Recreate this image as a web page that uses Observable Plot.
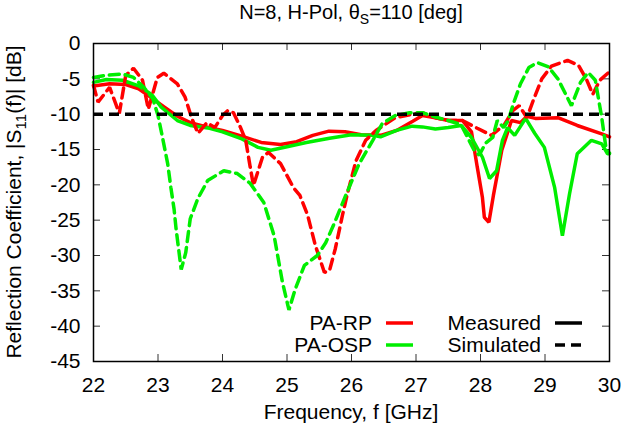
<!DOCTYPE html>
<html>
<head>
<meta charset="utf-8">
<script src="https://cdn.jsdelivr.net/npm/d3@7"></script>
<script src="https://cdn.jsdelivr.net/npm/@observablehq/plot@0.6"></script>
<style>
  html, body { margin: 0; padding: 0; background: #fff; }
  svg { display: block; }
</style>
</head>
<body>
<div id="chart"></div>
<script>
// ---- data (frequency GHz, |S11| dB) ----
const xTicks = [22, 23, 24, 25, 26, 27, 28, 29, 30];
const yTicks = [0, -5, -10, -15, -20, -25, -30, -35, -40, -45];
const threshold = [-10];

const rpMeasured = [
  [22.0,-6.0],[22.25,-5.7],[22.5,-5.8],[22.7,-6.4],[22.9,-7.7],[23.1,-9.0],[23.3,-10.3],
  [23.5,-11.2],[23.8,-11.9],[24.0,-12.3],[24.3,-13.1],[24.6,-14.0],[24.9,-14.3],[25.15,-13.9],
  [25.4,-13.0],[25.65,-12.4],[25.9,-12.5],[26.15,-12.9],[26.45,-13.0],[26.7,-12.3],[26.95,-11.0],
  [27.1,-10.2],[27.3,-10.5],[27.5,-10.9],[27.72,-10.9],[27.86,-12.5],[27.95,-17.5],[28.03,-21.8],
  [28.06,-24.6],[28.13,-25.3],[28.2,-21.5],[28.33,-15.1],[28.48,-10.9],[28.62,-11.2],[28.72,-10.3],
  [28.85,-10.6],[29.2,-10.5],[29.5,-11.6],[29.88,-12.8],[30.0,-13.2]
];
const ospMeasured = [
  [22.0,-5.5],[22.2,-5.1],[22.45,-5.2],[22.7,-6.0],[22.9,-7.2],[23.05,-9.0],[23.3,-10.9],
  [23.5,-11.6],[23.8,-12.0],[24.0,-12.5],[24.3,-13.5],[24.55,-14.7],[24.75,-15.1],[25.0,-14.6],
  [25.3,-14.0],[25.66,-13.4],[26.0,-12.9],[26.33,-13.0],[26.45,-13.2],[26.7,-12.3],[26.94,-11.7],
  [27.1,-11.8],[27.3,-12.1],[27.5,-11.9],[27.7,-11.6],[27.86,-13.3],[28.03,-16.1],[28.14,-19.1],
  [28.25,-18.0],[28.34,-13.7],[28.42,-11.9],[28.53,-13.0],[28.7,-10.6],[28.84,-12.7],[28.99,-14.7],
  [29.15,-20.4],[29.27,-27.2],[29.38,-21.3],[29.5,-15.6],[29.72,-13.7],[29.88,-14.2],[29.97,-15.6],
  [30.0,-15.6]
];
const rpSimulated = [
  [22.0,-5.9],[22.07,-8.3],[22.25,-6.2],[22.4,-9.9],[22.5,-4.5],[22.62,-3.5],[22.76,-5.2],
  [22.85,-9.3],[22.99,-4.8],[23.09,-4.2],[23.3,-5.7],[23.42,-7.6],[23.52,-10.5],[23.62,-12.7],
  [23.76,-11.2],[23.88,-11.9],[24.0,-10.2],[24.08,-9.5],[24.17,-9.8],[24.28,-11.9],[24.36,-13.7],
  [24.43,-17.5],[24.48,-20.1],[24.62,-16.1],[24.71,-15.4],[24.9,-17.0],[25.1,-20.4],[25.2,-21.5],
  [25.32,-24.3],[25.44,-28.6],[25.58,-32.4],[25.66,-32.1],[25.75,-29.0],[25.86,-24.3],[25.93,-21.5],
  [26.07,-16.6],[26.22,-13.7],[26.38,-12.3],[26.68,-10.5],[26.94,-10.0],[27.1,-9.8],[27.3,-10.5],
  [27.5,-10.9],[27.72,-10.9],[27.95,-12.0],[28.17,-13.0],[28.37,-11.5],[28.5,-9.5],[28.6,-8.8],
  [28.72,-10.5],[28.82,-8.0],[28.95,-5.0],[29.1,-3.2],[29.35,-2.4],[29.52,-3.1],[29.64,-5.0],
  [29.74,-7.2],[29.85,-5.2],[30.0,-4.0]
];
const ospSimulated = [
  [22.0,-4.8],[22.2,-4.5],[22.45,-4.3],[22.62,-4.8],[22.78,-6.2],[22.92,-7.8],[23.0,-10.2],
  [23.07,-13.3],[23.15,-17.0],[23.2,-20.4],[23.25,-23.5],[23.28,-26.2],[23.36,-32.0],[23.43,-29.6],
  [23.5,-24.8],[23.62,-21.9],[23.77,-19.4],[24.02,-18.0],[24.23,-18.4],[24.43,-19.8],[24.64,-22.5],
  [24.8,-27.2],[24.93,-33.8],[25.03,-37.7],[25.13,-34.7],[25.27,-31.4],[25.47,-30.0],[25.6,-28.2],
  [25.74,-25.3],[25.91,-21.5],[26.12,-17.0],[26.33,-13.7],[26.48,-11.3],[26.68,-10.2],[26.9,-9.8],
  [27.1,-9.8],[27.3,-10.4],[27.5,-10.9],[27.7,-11.5],[27.8,-13.3],[27.9,-15.1],[27.98,-15.8],
  [28.08,-14.1],[28.19,-13.3],[28.26,-10.9],[28.36,-11.9],[28.43,-10.9],[28.51,-8.5],[28.62,-5.7],
  [28.75,-3.4],[28.88,-2.7],[29.05,-3.3],[29.2,-5.0],[29.41,-8.8],[29.55,-5.5],[29.67,-4.1],
  [29.78,-5.2],[29.88,-10.5],[29.95,-15.1],[30.0,-15.5]
];

const RED = "#ff0000";
const GREEN = "#00ee00";
const DASH = "10,6";
const LW = 3.5;

const W = 624, H = 429;
const mL = 93, mR = 15, mT = 43, mB = 68;
const plotW = W - mL - mR, plotH = H - mT - mB;
const TICK = 7;

const svg = Plot.plot({
  width: W,
  height: H,
  marginLeft: mL,
  marginRight: mR,
  marginTop: mT,
  marginBottom: mB,
  style: {fontFamily: "'Liberation Sans', Arial, sans-serif", fontSize: "21px", background: "#fff", color: "#000"},
  x: {domain: [22, 30], ticks: xTicks, tickSize: 0, tickPadding: 16, label: null, tickFormat: d => String(d)},
  y: {domain: [-45, 0], ticks: yTicks, tickSize: 0, tickPadding: 13, label: null, tickFormat: d => String(d)},
  marks: [
    Plot.tickX(xTicks, {x: d => d, insetTop: plotH - TICK, stroke: "#333", strokeWidth: 1}),
    Plot.tickX(xTicks, {x: d => d, insetBottom: plotH - TICK, stroke: "#333", strokeWidth: 1}),
    Plot.tickY(yTicks, {y: d => d, insetRight: plotW - TICK, stroke: "#333", strokeWidth: 1}),
    Plot.tickY(yTicks, {y: d => d, insetLeft: plotW - TICK, stroke: "#333", strokeWidth: 1}),
    Plot.line(rpMeasured, {x: d => d[0], y: d => d[1], stroke: RED, strokeWidth: LW, strokeLinejoin: "miter"}),
    Plot.line(ospMeasured, {x: d => d[0], y: d => d[1], stroke: GREEN, strokeWidth: LW, strokeLinejoin: "miter"}),
    Plot.line(rpSimulated, {x: d => d[0], y: d => d[1], stroke: RED, strokeWidth: LW, strokeDasharray: DASH, strokeLinejoin: "miter"}),
    Plot.line(ospSimulated, {x: d => d[0], y: d => d[1], stroke: GREEN, strokeWidth: LW, strokeDasharray: DASH, strokeLinejoin: "miter"}),
    Plot.ruleY(threshold, {stroke: "#000", strokeWidth: LW, strokeDasharray: DASH}),
    Plot.frame({stroke: "#000", strokeWidth: 1.5})
  ]
});

const s = d3.select(svg);
const font = "'Liberation Sans', Arial, sans-serif";

// Title
const title = s.append("text")
  .attr("x", mL + plotW / 2).attr("y", 19)
  .attr("text-anchor", "middle")
  .style("font-family", font).style("font-size", "20px");
title.append("tspan").text("N=8, H-Pol, \u03B8");
title.append("tspan").attr("dy", 5).style("font-size", "14px").text("S");
title.append("tspan").attr("dy", -5).text("=110 [deg]");

// X label
s.append("text")
  .attr("x", mL + plotW / 2).attr("y", 419)
  .attr("text-anchor", "middle")
  .style("font-family", font).style("font-size", "21px")
  .text("Frequency, f [GHz]");

// Y label
const yl = s.append("text")
  .attr("transform", `translate(21,${mT + plotH / 2}) rotate(-90)`)
  .attr("text-anchor", "middle")
  .style("font-family", font).style("font-size", "21px");
yl.append("tspan").text("Reflection Coefficient, |S");
yl.append("tspan").attr("dy", 5).style("font-size", "15px").text("11");
yl.append("tspan").attr("dy", -5).text("(f)| [dB]");

// Legend
const legendRows = [
  {label: "PA-RP", color: RED, dash: null, tx: 372, lx1: 386, lx2: 413, y: 323},
  {label: "PA-OSP", color: GREEN, dash: null, tx: 372, lx1: 386, lx2: 413, y: 345},
  {label: "Measured", color: "#000", dash: null, tx: 541, lx1: 555, lx2: 582, y: 323},
  {label: "Simulated", color: "#000", dash: DASH, tx: 541, lx1: 555, lx2: 582, y: 345}
];
const lg = s.append("g");
legendRows.forEach(r => {
  lg.append("text").attr("x", r.tx).attr("y", r.y).attr("dy", "0.35em")
    .attr("text-anchor", "end")
    .style("font-family", font).style("font-size", "21px")
    .text(r.label);
  lg.append("line").attr("x1", r.lx1).attr("x2", r.lx2).attr("y1", r.y).attr("y2", r.y)
    .attr("stroke", r.color).attr("stroke-width", LW)
    .attr("stroke-dasharray", r.dash);
});

document.getElementById("chart").appendChild(svg);
</script>
</body>
</html>
